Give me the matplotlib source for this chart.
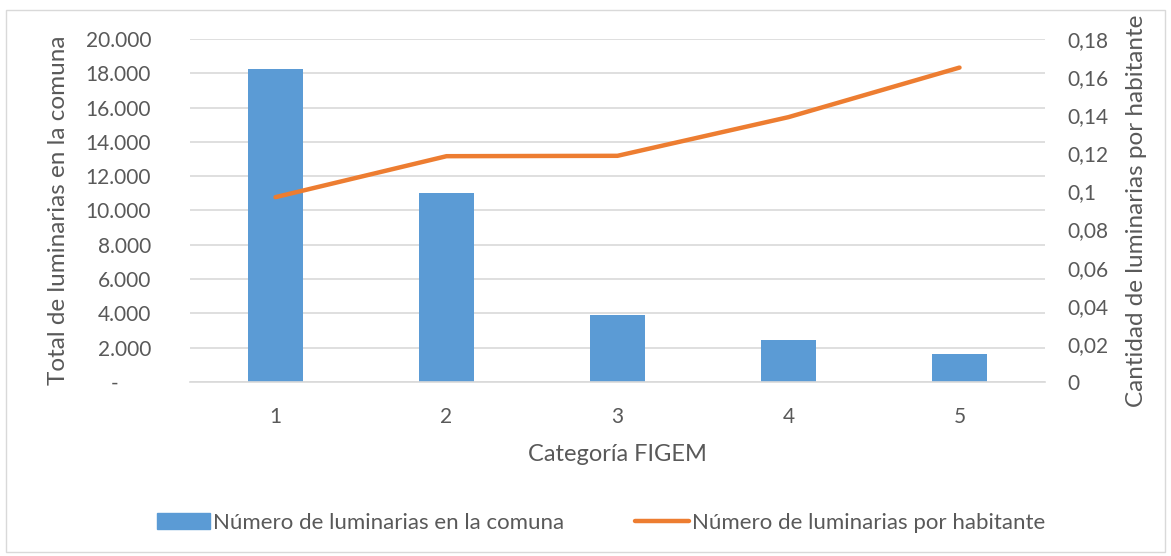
import matplotlib
matplotlib.use("Agg")
import matplotlib.pyplot as plt
from matplotlib.patches import Rectangle, Patch
from matplotlib.lines import Line2D
from matplotlib.ticker import FuncFormatter

categories = ["1", "2", "3", "4", "5"]
luminarias = [18250, 11020, 3900, 2450, 1630]
por_habitante = [0.097, 0.1185, 0.1187, 0.139, 0.165]
left_ticks = [0, 2000, 4000, 6000, 8000, 10000, 12000, 14000, 16000, 18000, 20000]
right_ticks = [0, 0.02, 0.04, 0.06, 0.08, 0.1, 0.12, 0.14, 0.16, 0.18]

plt.rcParams['font.family'] = ['Lato', 'DejaVu Sans']
txt = '#595959'
bar_c = '#5b9bd5'
line_c = '#ed7d31'

fig = plt.figure(figsize=(11.71, 5.56), dpi=100)
ax = fig.add_axes([190/1171, 1-382/556, (1045-190)/1171, (382-39)/556])
x = list(range(len(categories)))
ax.bar(x, luminarias, width=0.32, color=bar_c, zorder=2)
ax.set_xlim(-0.5, len(categories)-0.5)
ax.set_ylim(0, 20000)
ax.set_yticks(left_ticks)
def lfmt(v, p):
    if v == 0:
        return '-      '
    return f"{int(v):,}".replace(',', '.')
ax.yaxis.set_major_formatter(FuncFormatter(lfmt))
ax.set_xticks(x)
ax.set_xticklabels(categories)
ax.grid(axis='y', color='#d9d9d9', linewidth=1.2, zorder=0)
for s in ['top', 'right', 'left']:
    ax.spines[s].set_visible(False)
ax.spines['bottom'].set_color('#d9d9d9')
ax.spines['bottom'].set_linewidth(1.2)
ax.tick_params(length=0, labelsize=15, colors=txt)
ax.tick_params(axis='y', pad=28)
ax.tick_params(axis='x', pad=18)
ax.set_xlabel('Categoría FIGEM', fontsize=17, color=txt, labelpad=12)
ax.set_ylabel('Total de luminarias en la comuna', fontsize=17.5, color=txt, labelpad=12)

ax2 = ax.twinx()
ax2.plot(x, por_habitante, color=line_c, linewidth=3.2, solid_capstyle='round', zorder=3)
ax2.set_ylim(0, 0.18)
ax2.set_yticks(right_ticks)
def rfmt(v, p):
    s = f"{v:.2f}".rstrip('0').rstrip('.')
    return s.replace('.', ',')
ax2.yaxis.set_major_formatter(FuncFormatter(rfmt))
for s in ['top', 'right', 'left', 'bottom']:
    ax2.spines[s].set_visible(False)
ax2.tick_params(length=0, labelsize=15, colors=txt, pad=16)
ax2.set_ylabel('Cantidad de luminarias por habitante', fontsize=17.5, color=txt, labelpad=13)

handles = [Patch(color=bar_c), Line2D([0], [0], color=line_c, linewidth=3.2, solid_capstyle='round')]
labels = ['Número de luminarias en la comuna', 'Número de luminarias por habitante']
fig.legend(handles, labels, loc='center', bbox_to_anchor=(601/1171, 1-523/556), ncol=2, frameon=False,
           fontsize=16, labelcolor=txt, handlelength=2.4, handletextpad=0.15, columnspacing=3.2)

fig.patches.append(Rectangle((6/1171, 1-552/556), 1159/1171, 542/556, transform=fig.transFigure,
                             fill=False, edgecolor='#d9d9d9', linewidth=1))
fig.savefig('out.png', dpi=100)
